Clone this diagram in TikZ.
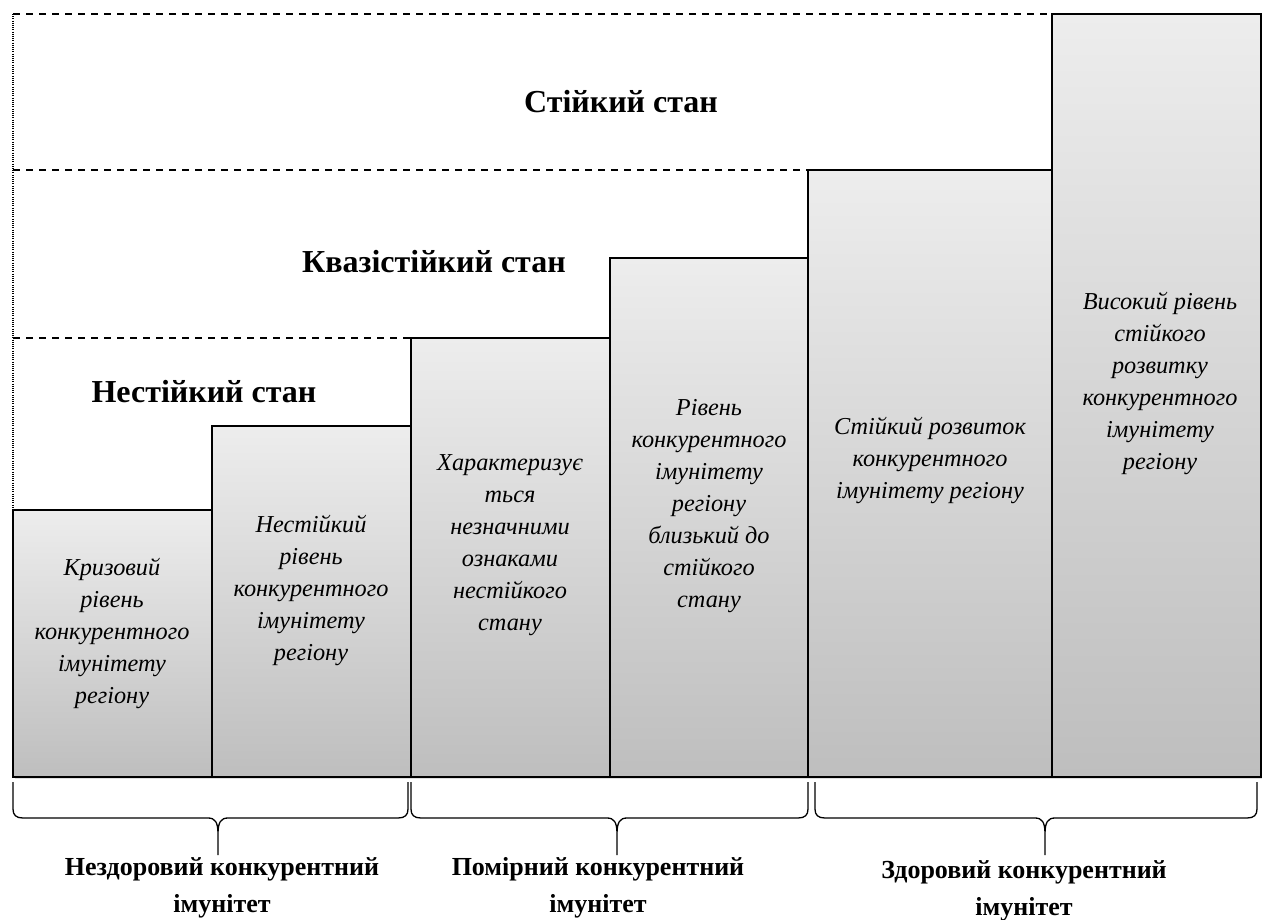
\documentclass[tikz,border=0pt]{standalone}
\usepackage{fontspec}
\setmainfont{Liberation Serif}
\usetikzlibrary{shadows,calc}

\definecolor{barTop}{RGB}{237,237,237}
\definecolor{barBottom}{RGB}{190,190,190}

% curly brace under a group of bars
\newcommand{\groupbrace}[3]{%
  \draw[brace_style] (#1,782) -- (#1,809) .. controls (#1,815) and (#1+3,818) .. (#1+10,818)
     -- (#2-10,818) .. controls (#2-3,818) and (#2,822) .. (#2,834) -- (#2,855)
     -- (#2,834) .. controls (#2,822) and (#2+3,818) .. (#2+10,818)
     -- (#3-10,818) .. controls (#3-3,818) and (#3,815) .. (#3,809) -- (#3,782);}

\begin{document}
\begin{tikzpicture}[x=1pt,y=-1pt]
     \tikzstyle{bar_style} = [draw=black,line width=1.4pt,top color=barTop,bottom color=barBottom,drop shadow={opacity=0.25,shadow xshift=2pt,shadow yshift=-2pt}]
     \tikzstyle{dash_style} = [draw=black,line width=1.3pt,dash pattern=on 7pt off 6pt]
     \tikzstyle{dot_style} = [draw=black,line width=1.3pt,dash pattern=on 1pt off 1.2pt]
     \tikzstyle{brace_style} = [draw=black,line width=1.3pt]
     \tikzstyle{note_style} = [align=center,inner sep=0pt,font=\fontsize{24.3}{32}\itshape]
     \tikzstyle{level_style} = [align=center,inner sep=0pt,font=\fontsize{32}{38}\bfseries]
     \tikzstyle{group_style} = [align=center,inner sep=0pt,font=\fontsize{26}{37}\bfseries]
     \useasboundingbox (0,0) rectangle (1262,920);
     % levels
     \draw[dot_style] (13,14) -- (13,510);
     \draw[dash_style] (13,14) -- (1052,14);
     \draw[dash_style] (13,170) -- (808,170);
     \draw[dash_style] (13,338) -- (411,338);
     % bars
     \path[bar_style] (13,510) rectangle (212,777);
     \path[bar_style] (212,426) rectangle (411,777);
     \path[bar_style] (411,338) rectangle (610,777);
     \path[bar_style] (610,258) rectangle (808,777);
     \path[bar_style] (808,170) rectangle (1052,777);
     \path[bar_style] (1052,14) rectangle (1261,777);
     % headings
     \node[level_style] (s3) at (621,102) {Стійкий стан};
     \node[level_style] (s2) at (434,262) {Квазістійкий стан};
     \node[level_style] (s1) at (204,392) {Нестійкий стан};
     % bar texts
     \node[note_style] (t1) at (112,633) {Кризовий\\рівень\\конкурентного\\імунітету\\регіону};
     \node[note_style] (t2) at (311,590) {Нестійкий\\рівень\\конкурентного\\імунітету\\регіону};
     \node[note_style] (t3) at (510,545) {Характеризує\\ться\\незначними\\ознаками\\нестійкого\\стану};
     \node[note_style] (t4) at (709,506) {Рівень\\конкурентного\\імунітету\\регіону\\близький до\\стійкого\\стану};
     \node[note_style] (t5) at (930,460) {Стійкий розвиток\\конкурентного\\імунітету регіону};
     \node[note_style] (t6) at (1160,383) {Високий рівень\\стійкого\\розвитку\\конкурентного\\імунітету\\регіону};
     % groups
     \groupbrace{13}{218}{408}
     \groupbrace{411}{617}{808}
     \groupbrace{815}{1045}{1257}
     \node[group_style] (g1) at (222,888) {Нездоровий конкурентний\\імунітет};
     \node[group_style] (g2) at (598,888) {Помірний конкурентний\\імунітет};
     \node[group_style] (g3) at (1024,891) {Здоровий конкурентний\\імунітет};
\end{tikzpicture}
\end{document}
